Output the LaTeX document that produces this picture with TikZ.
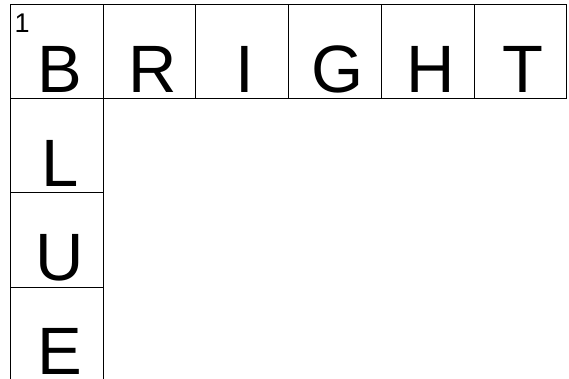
\documentclass[tikz,border=0pt]{standalone}
\usepackage{fontspec}
\setmainfont{Liberation Sans}
\usetikzlibrary{positioning}
\tikzset{
  cell/.style={draw, line width=0.9pt, minimum width=92.7pt, minimum height=94.2pt,
    inner sep=0pt, outer sep=0pt},
  letter/.style={inner sep=0pt, anchor=base, font=\fontsize{67}{67}\selectfont},
  cluenum/.style={inner sep=0pt, anchor=north west, font=\fontsize{27}{27}\selectfont}
}
\begin{document}
\begin{tikzpicture}[x=1pt, y=-1pt]

  % 画布范围（底部格子被裁掉）
  \useasboundingbox (0,0) rectangle (569,379);
  \clip (0,0) rectangle (569,379);

  % 横向单词 BRIGHT
  \node[cell] (cB) at (56.85,51.6) {};
  \node[cell, right=0pt of cB] (cR) {};
  \node[cell, right=0pt of cR] (cI) {};
  \node[cell, right=0pt of cI] (cG) {};
  \node[cell, right=0pt of cG] (cH) {};
  \node[cell, right=0pt of cH] (cT) {};

  % 纵向单词 BLUE
  \node[cell, below=0pt of cB] (cL) {};
  \node[cell, below=0pt of cL] (cU) {};
  \node[cell, below=0pt of cU] (cE) {};

  % 字母
  \foreach \c in {B,R,I,G,H,T,L,U,E}
    \node[letter] (t\c) at ([xshift=3pt, yshift=6.5pt]c\c.south) {\c};

  % 编号
  \node[cluenum] (n1) at (14.5,13.5) {1};

\end{tikzpicture}
\end{document}
